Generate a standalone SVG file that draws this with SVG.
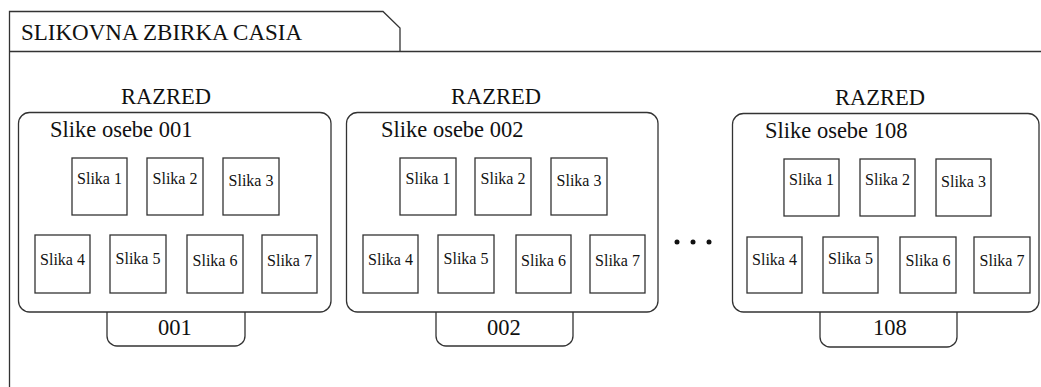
<svg xmlns="http://www.w3.org/2000/svg" width="1041" height="387" viewBox="0 0 1041 387">
<style>
.ln{fill:none;stroke:#333;stroke-width:1.3}
.box{fill:#fff;stroke:#333;stroke-width:1.3}
text{font-family:'Liberation Serif','DejaVu Serif',serif;fill:#111}
.big{font-size:22.5px}
.title{font-size:23px}
.sm{font-size:16px;text-anchor:middle}
.dot{fill:#111}
</style>
<rect width="1041" height="387" fill="#fff"/>
<g id="frame">
<path class="ln" d="M9.5,387 V11.5 H383 L400,28 V51.5 M9.5,51.5 H1041"/>
<text class="title" x="21" y="40">SLIKOVNA ZBIRKA CASIA</text>
</g>
<g id="class1">
<text class="big" x="121" y="104">RAZRED</text>
<path class="box" d="M107,312 V336 A10,10 0 0 0 117,346 H235 A10,10 0 0 0 245,336 V312"/>
<rect class="box" x="18.5" y="112.5" width="312.5" height="199.5" rx="11"/>
<text class="big" x="50" y="137">Slike osebe 001</text>
<rect class="box" x="72" y="158" width="55" height="57"/><text class="sm" x="99.5" y="184">Slika 1</text>
<rect class="box" x="147" y="158" width="56" height="57"/><text class="sm" x="175" y="184">Slika 2</text>
<rect class="box" x="223" y="158" width="56" height="57"/><text class="sm" x="251" y="186">Slika 3</text>
<rect class="box" x="35" y="235" width="55" height="58"/><text class="sm" x="62.5" y="265">Slika 4</text>
<rect class="box" x="110" y="235" width="56" height="58"/><text class="sm" x="138" y="264">Slika 5</text>
<rect class="box" x="187" y="235" width="56" height="58"/><text class="sm" x="215" y="266">Slika 6</text>
<rect class="box" x="262" y="235" width="55" height="58"/><text class="sm" x="289.5" y="266">Slika 7</text>
<text class="big" x="158" y="335">001</text>
</g>
<g id="class2">
<text class="big" x="451" y="104">RAZRED</text>
<path class="box" d="M436,312 V336 A10,10 0 0 0 446,346 H563 A10,10 0 0 0 573,336 V312"/>
<rect class="box" x="346.5" y="112.5" width="311.5" height="199.5" rx="11"/>
<text class="big" x="381" y="137">Slike osebe 002</text>
<rect class="box" x="400" y="158" width="56" height="57"/><text class="sm" x="428" y="184">Slika 1</text>
<rect class="box" x="475" y="158" width="56" height="57"/><text class="sm" x="503" y="184">Slika 2</text>
<rect class="box" x="551" y="158" width="56" height="57"/><text class="sm" x="579" y="186">Slika 3</text>
<rect class="box" x="363" y="235" width="55" height="58"/><text class="sm" x="390.5" y="265">Slika 4</text>
<rect class="box" x="438" y="235" width="56" height="58"/><text class="sm" x="466" y="264">Slika 5</text>
<rect class="box" x="516" y="235" width="55" height="58"/><text class="sm" x="543.5" y="266">Slika 6</text>
<rect class="box" x="590" y="235" width="55" height="58"/><text class="sm" x="617.5" y="266">Slika 7</text>
<text class="big" x="487" y="335">002</text>
</g>
<g id="ellipsis">
<circle class="dot" cx="677" cy="242" r="2.5"/>
<circle class="dot" cx="693" cy="242" r="2.5"/>
<circle class="dot" cx="709" cy="242" r="2.5"/>
</g>
<g id="class3">
<text class="big" x="835" y="105">RAZRED</text>
<path class="box" d="M820,312 V337 A10,10 0 0 0 830,347 H947 A10,10 0 0 0 957,337 V312"/>
<rect class="box" x="732.5" y="113.5" width="306.5" height="198.5" rx="11"/>
<text class="big" x="765" y="138">Slike osebe 108</text>
<rect class="box" x="784" y="159" width="55" height="57"/><text class="sm" x="811.5" y="185">Slika 1</text>
<rect class="box" x="860" y="159" width="55" height="57"/><text class="sm" x="887.5" y="185">Slika 2</text>
<rect class="box" x="936" y="159" width="55" height="57"/><text class="sm" x="963.5" y="187">Slika 3</text>
<rect class="box" x="747" y="237" width="55" height="56"/><text class="sm" x="774.5" y="265">Slika 4</text>
<rect class="box" x="823" y="237" width="55" height="56"/><text class="sm" x="850.5" y="264">Slika 5</text>
<rect class="box" x="900" y="237" width="56" height="56"/><text class="sm" x="928" y="266">Slika 6</text>
<rect class="box" x="974" y="237" width="56" height="56"/><text class="sm" x="1002" y="266">Slika 7</text>
<text class="big" x="873" y="335">108</text>
</g>
</svg>
